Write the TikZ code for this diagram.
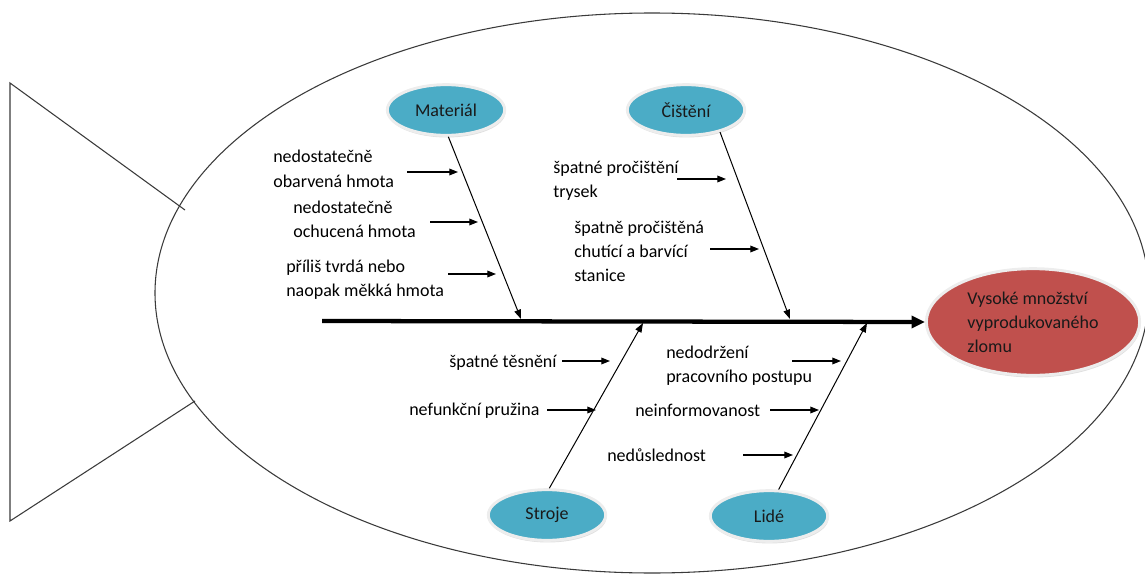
\documentclass[tikz,border=0pt]{standalone}
\usepackage{fontspec}
\setmainfont{Carlito}
\usetikzlibrary{shapes.geometric,arrows.meta,shadows}
\definecolor{causeblue}{HTML}{4BACC6}
\definecolor{effectred}{HTML}{C0504D}
\definecolor{outline}{HTML}{3A3A3A}
\tikzset{
  body/.style={draw=outline, line width=0.8pt},
  cause/.style={ellipse, fill=causeblue, draw=black!7, line width=2.2pt,
    minimum width=88pt, minimum height=38pt, inner sep=0pt,
    font=\fontsize{13.5}{18}\selectfont, text=black!90,
    drop shadow={shadow xshift=0.6pt, shadow yshift=-1.6pt, opacity=0.25}},
  effect/.style={ellipse, fill=effectred, draw=black!7, line width=2.2pt,
    minimum width=160pt, minimum height=80pt, inner sep=0pt, align=left,
    font=\fontsize{13.5}{18}\selectfont, text=black!90,
    drop shadow={shadow xshift=0.6pt, shadow yshift=-1.6pt, opacity=0.25}},
  spine/.style={line width=3.2pt, -{Triangle[length=10pt,width=9pt]}},
  branch/.style={line width=0.75pt, -{Triangle[length=7pt,width=5pt]}},
  sub/.style={line width=0.9pt, -{Triangle[length=6.5pt,width=5pt]}},
  lbl/.style={anchor=base west, inner sep=0pt, align=left,
    font=\fontsize{13.5}{18}\selectfont}
}
\begin{document}
\begin{tikzpicture}[x=0.75pt, y=-0.75pt]
\useasboundingbox (0,0) rectangle (1145,574);
% fish body and tail
\draw[body] (652,293) ellipse [x radius=497, y radius=280];
\coordinate (tailtop) at (10,83);
\coordinate (tailbot) at (10,521);
\coordinate (tailu) at (185,210);
\coordinate (taill) at (195,401);
\draw[body] (tailu) -- (tailtop) -- (tailbot) -- (taill);

% effect and spine
\node[effect] (eff) at (1033,322) {Vysoké množství\\vyprodukovaného\\zlomu};
\coordinate (spinestart) at (322,321);
\draw[spine] (spinestart) -- (eff.west);

% causes
\node[cause] (mat) at (446,110) {Materiál};
\node[cause] (cis) at (686,110) {Čištění};
\node[cause] (str) at (547,515) {Stroje};
\node[cause] (lid) at (769,516) {Lidé};

\coordinate (mtip) at (521,319);
\coordinate (ctip) at (790,319);
\coordinate (stip) at (643,323);
\coordinate (ltip) at (867,323);
\draw[branch] (mat.-85) -- (mtip);
\draw[branch] (cis.-33) -- (ctip);
\draw[branch] (str.85) -- (stip);
\draw[branch] (lid.70) -- (ltip);

% sub causes: labels (anchor = baseline of the last line)
\node[lbl] (t1) at (273,187) {nedostatečně\\obarvená hmota};
\node[lbl] (t2) at (293,237) {nedostatečně\\ochucená hmota};
\node[lbl] (t3) at (286,296) {příliš tvrdá nebo\\naopak měkká hmota};
\node[lbl] (t4) at (553,197) {špatné pročištění\\trysek};
\node[lbl] (t5) at (574,281) {špatně pročištěná\\chutící a barvící\\stanice};
\node[lbl] (t6) at (449,367) {špatné těsnění};
\node[lbl] (t7) at (409,415) {nefunkční pružina};
\node[lbl] (t8) at (666,382) {nedodržení\\pracovního postupu};
\node[lbl] (t9) at (635,416) {neinformovanost};
\node[lbl] (t10) at (607,461) {nedůslednost};

% sub causes: arrows
\coordinate (a1s) at (407,172);  \coordinate (a1e) at (458,172);
\coordinate (a2s) at (430,222);  \coordinate (a2e) at (478,222);
\coordinate (a3s) at (448,274);  \coordinate (a3e) at (496,274);
\coordinate (a4s) at (677,179);  \coordinate (a4e) at (726,179);
\coordinate (a5s) at (710,249);  \coordinate (a5e) at (759,249);
\coordinate (a6s) at (562,361);  \coordinate (a6e) at (610,361);
\coordinate (a7s) at (547,410);  \coordinate (a7e) at (596,410);
\coordinate (a8s) at (792,361);  \coordinate (a8e) at (841,361);
\coordinate (a9s) at (770,410);  \coordinate (a9e) at (819,410);
\coordinate (a10s) at (743,455); \coordinate (a10e) at (793,455);
\foreach \i in {1,...,10} {\draw[sub] (a\i s) -- (a\i e);}
\end{tikzpicture}
\end{document}
